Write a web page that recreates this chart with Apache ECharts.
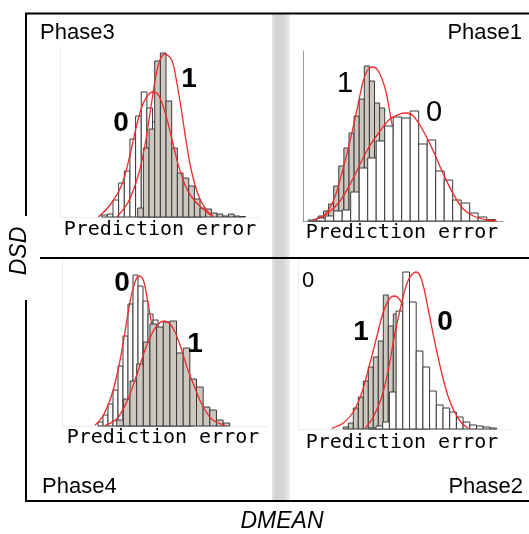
<!DOCTYPE html>
<html>
<head>
<meta charset="utf-8">
<script src="https://cdn.jsdelivr.net/npm/echarts@6/dist/echarts.min.js"></script>
<style>
  html, body { margin: 0; padding: 0; background: #fff; }
  #chart { width: 529px; height: 534px; }
</style>
</head>
<body>
<div id="chart"></div>
<script>
// prediction error histograms, arbitrary units
// class 0 = white bars, class 1 = gray bars

// Phase3 (top left)
const p3Start0 = 41.7, p3Width0 = 5.65
const p3Counts0 = [2, 3, 17, 34, 46, 78, 101, 125, 109, 95, 70, 50, 35, 22, 14, 8, 4, 2]
const p3Start1 = 77.7, p3Width1 = 5.67
const p3Counts1 = [9, 69, 88, 156, 164, 116, 69, 44, 39, 31, 18, 9, 8, 4, 3, 1, 3, 1, 0.5]
const p3Curve0 = [[38.3, 0], [50, 12], [61.7, 32], [70, 62], [76.7, 92], [83.3, 114], [90, 124], [94.3, 125], [100, 119], [106.7, 99], [113.3, 72], [118.3, 52], [125, 32], [131.7, 20], [141.7, 9], [151.7, 1.3]]
const p3Curve1 = [[56.7, 0], [68.3, 15], [78.3, 42], [85, 72], [91.7, 115], [98.3, 152], [105, 163], [111.7, 157], [116.7, 135], [121.7, 105], [126.7, 72], [131.7, 45], [138.3, 22], [145, 9], [153.3, 0.3]]

// Phase1 (top right)
const p1Start0 = 5.2, p1Width0 = 8.5
const p1Counts0 = [1, 3, 5, 10, 11, 29, 53, 63, 80, 95, 104, 103, 110, 77, 81, 50, 41, 21, 18, 8, 4, 1.5]
const p1Start1 = 10.3, p1Width1 = 5.1
const p1Counts1 = [1.7, 5, 10, 17, 35, 55, 73, 88, 105, 122, 155, 140, 118, 113, 92, 72, 52, 35, 22, 12, 6]
const p1Curve0 = [[10.3, 0.7], [23.7, 7], [37, 20], [50.3, 43], [63.7, 70], [77, 90], [87, 102], [97, 107], [103, 108], [110.3, 105], [120.3, 90], [130.3, 70], [140.3, 47], [150.3, 27], [160.3, 12], [170.3, 5], [183.7, 1], [193.7, 0]]
const p1Curve1 = [[8.7, 0], [20.3, 5], [30.3, 20], [38.7, 47], [47, 80], [53.7, 110], [60.3, 140], [65.3, 152], [69.7, 154], [75.3, 150], [82, 133], [87, 108], [92, 80], [97, 50], [103.7, 23], [112, 5], [120.3, 0]]

// Phase4 (bottom left)
const p4Start0 = 36, p4Width0 = 5
const p4Counts0 = [4, 11, 22, 36, 60, 90, 122, 151, 140, 125, 112, 106, 90, 68, 48, 30, 16, 7, 3]
const p4Start1 = 54.7, p4Width1 = 6.65
const p4Counts1 = [6, 27, 45, 62, 84, 102, 99, 104, 105, 73, 78, 47, 39, 19, 16, 6, 3]
const p4Curve0 = [[33, 0.7], [41.3, 10.7], [49.7, 31], [56.3, 57], [63, 94], [68, 124], [73, 144], [77.3, 150], [81.3, 146], [85.3, 127], [89.7, 101], [93.7, 80], [98, 60], [103, 40], [108, 24], [113, 12], [118, 5], [124, 1]]
const p4Curve1 = [[43, 0.7], [54.7, 7], [64.7, 24], [74.7, 51], [83, 76], [89.7, 92], [96.3, 102], [102, 105], [108, 102], [113, 94], [118, 81], [126.3, 55], [133, 38], [139.7, 22], [149.7, 7], [163, 0.7]]

// Phase2 (bottom right)
const p2Start0 = 71.3, p2Width0 = 6.7
const p2Counts0 = [1, 3, 7, 37, 118, 157, 127, 78, 62, 38, 24, 21, 17, 12, 7, 4, 3, 2, 1]
const p2Start1 = 45.3, p2Width1 = 5
const p2Counts1 = [2, 6, 21, 32, 48, 62, 72, 88, 134, 103, 115, 100, 70, 40, 20, 8, 3]
const p2Curve0 = [[67, 0.7], [75.3, 12], [83.7, 32], [90.3, 59], [97, 96], [103.7, 126], [110.3, 149], [118, 157], [123.7, 149], [130.3, 119], [137, 86], [143.7, 56], [150.3, 32], [157, 16], [163.7, 6], [170.3, 0.7]]
const p2Curve1 = [[33.7, 0.7], [45.3, 6], [55.3, 17], [63.7, 36], [72, 66], [78.7, 92], [85.3, 117], [92, 131], [97, 133], [102, 129], [105.3, 122], [112, 95], [120, 60], [127, 35], [134, 18], [142, 7], [152, 2]]

const GRAY = '#ccc8c0'
const RED = '#f22a2a'

const grids = [
  { left: 60, top: 47, width: 200, height: 170 },
  { left: 303, top: 51, width: 200, height: 170 },
  { left: 62, top: 256, width: 206, height: 170 },
  { left: 298, top: 259, width: 212, height: 170 }
]
const axisColors = ['#ececec', '#9a9a9a', '#ececec', '#ececec']

function histSeries(axis, start, width, counts, fill, z) {
  return {
    type: 'custom',
    coordinateSystem: 'cartesian2d',
    xAxisIndex: axis,
    yAxisIndex: axis,
    z: z,
    silent: true,
    data: counts.map((c, i) => [start + i * width, start + (i + 1) * width, c]),
    encode: { x: [0, 1], y: 2 },
    renderItem: function (params, api) {
      const a = api.coord([api.value(0), 0])
      const b = api.coord([api.value(1), api.value(2)])
      return {
        type: 'rect',
        shape: { x: a[0], y: b[1], width: b[0] - a[0], height: a[1] - b[1] },
        style: { fill: fill, stroke: '#3a3a3a', lineWidth: 1 }
      }
    }
  }
}

function curveSeries(axis, points, z) {
  return {
    type: 'line',
    xAxisIndex: axis,
    yAxisIndex: axis,
    z: z,
    data: points,
    smooth: 0.35,
    showSymbol: false,
    silent: true,
    lineStyle: { color: RED, width: 1.3 }
  }
}

function txt(text, x, y, size, opts) {
  opts = opts || {}
  return {
    type: 'text',
    x: x,
    y: y,
    z: 100,
    rotation: opts.rotation || 0,
    style: {
      text: text,
      fill: '#000',
      font: (opts.style || 'normal') + ' ' + (opts.weight || 'normal') + ' ' + size + 'px ' + (opts.family || '"Liberation Sans", Arial, sans-serif'),
      textAlign: opts.align || 'center',
      textVerticalAlign: 'middle'
    }
  }
}

function hline(x1, x2, y) {
  return { type: 'line', z: 90, shape: { x1: x1, y1: y, x2: x2, y2: y }, style: { stroke: '#000', lineWidth: 2 } }
}
function vline(x, y1, y2) {
  return { type: 'line', z: 90, shape: { x1: x, y1: y1, x2: x, y2: y2 }, style: { stroke: '#000', lineWidth: 2 } }
}

const chart = echarts.init(document.getElementById('chart'))
const mono = '"DejaVu Sans Mono", monospace'

chart.setOption({
  animation: false,
  grid: grids,
  xAxis: grids.map((g, i) => ({
    type: 'value',
    gridIndex: i,
    min: 0,
    max: g.width,
    axisLine: { show: true, lineStyle: { color: axisColors[i], width: 1 } },
    axisTick: { show: false },
    axisLabel: { show: false },
    splitLine: { show: false }
  })),
  yAxis: grids.map((g, i) => ({
    type: 'value',
    gridIndex: i,
    min: 0,
    max: 170,
    axisLine: { show: true, lineStyle: { color: axisColors[i], width: 1 } },
    axisTick: { show: false },
    axisLabel: { show: false },
    splitLine: { show: false }
  })),
  series: [
    // Phase3
    histSeries(0, p3Start0, p3Width0, p3Counts0, '#fff', 3),
    histSeries(0, p3Start1, p3Width1, p3Counts1, GRAY, 4),
    curveSeries(0, p3Curve0, 5),
    curveSeries(0, p3Curve1, 6),
    // Phase1
    histSeries(1, p1Start1, p1Width1, p1Counts1, GRAY, 3),
    curveSeries(1, p1Curve1, 4),
    histSeries(1, p1Start0, p1Width0, p1Counts0, '#fff', 5),
    curveSeries(1, p1Curve0, 6),
    // Phase4
    histSeries(2, p4Start0, p4Width0, p4Counts0, '#fff', 3),
    curveSeries(2, p4Curve0, 4),
    histSeries(2, p4Start1, p4Width1, p4Counts1, GRAY, 5),
    curveSeries(2, p4Curve1, 6),
    // Phase2
    histSeries(3, p2Start1, p2Width1, p2Counts1, GRAY, 3),
    curveSeries(3, p2Curve1, 4),
    histSeries(3, p2Start0, p2Width0, p2Counts0, '#fff', 5),
    curveSeries(3, p2Curve0, 6)
  ],
  graphic: [
    {
      type: 'rect',
      z: 1,
      shape: { x: 272, y: 14, width: 18, height: 487 },
      style: {
        fill: new echarts.graphic.LinearGradient(0, 0, 1, 0, [
          { offset: 0, color: '#e4e4e4' },
          { offset: 0.2, color: '#d2d2d2' },
          { offset: 0.65, color: '#d6d6d6' },
          { offset: 1, color: '#efefef' }
        ])
      }
    },
    hline(25, 529, 13.5),
    hline(40, 529, 258),
    hline(25, 529, 501),
    vline(26, 13, 216),
    vline(26, 300, 502),
    txt('Phase3', 40, 33, 22, { align: 'left' }),
    txt('Phase1', 522, 33, 22, { align: 'right' }),
    txt('Phase4', 42, 487, 22, { align: 'left' }),
    txt('Phase2', 523, 487, 22, { align: 'right' }),
    txt('Prediction error', 160, 230, 20, { family: mono }),
    txt('Prediction error', 402, 233, 20, { family: mono }),
    txt('Prediction error', 163, 438, 20, { family: mono }),
    txt('Prediction error', 402, 443, 20, { family: mono }),
    txt('0', 121, 123, 28, { weight: 'bold' }),
    txt('1', 189, 79, 28, { weight: 'bold' }),
    txt('1', 345, 84, 29),
    txt('0', 434, 113, 29),
    txt('0', 122, 283, 28, { weight: 'bold' }),
    txt('1', 195, 344, 28, { weight: 'bold' }),
    txt('1', 361, 332, 28, { weight: 'bold' }),
    txt('0', 445, 322, 28, { weight: 'bold' }),
    txt('0', 308, 281, 22),
    txt('DMEAN', 282, 522, 23, { style: 'italic' }),
    txt('DSD', 20, 251, 23, { style: 'italic', rotation: Math.PI / 2 })
  ]
})
</script>
</body>
</html>
